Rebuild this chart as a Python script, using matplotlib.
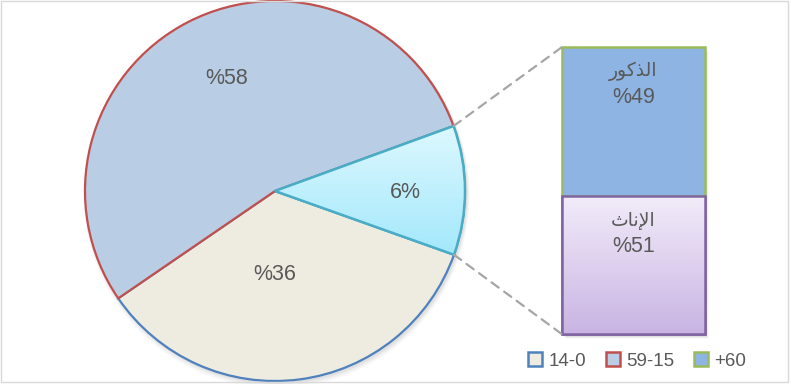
import numpy as np
import matplotlib
matplotlib.use("Agg")
import matplotlib.pyplot as plt
from matplotlib.patches import Patch, Rectangle, PathPatch
from matplotlib.patches import ConnectionPatch
from matplotlib.colors import LinearSegmentedColormap

# ---------------- data ----------------
# pie slices (counter-clockwise from the right): +60, 59-15, 14-0
pie_values = [11, 54, 35]
pie_labels = ["6%", "%58", "%36"]
# secondary bar (bottom to top): females, males
sex_values = [48, 52]
sex_pct_labels = ["%51", "%49"]
# Arabic names in visual (presentation-form) order: الإناث , الذكور
sex_names = ["\uFE99\uFE8E\uFEE7\uFEF9\uFE8D",
             "\uFEAD\uFEEE\uFEDB\uFEAC\uFEDF\uFE8D"]
legend_labels = ["14-0", "59-15", "+60"]

# ---------------- style ----------------
W, H = 791, 384
TXT = "#595959"
FONT = ["Liberation Sans", "DejaVu Sans"]
pie_face = ["#C9F1FD", "#B9CDE5", "#EEECE1"]
pie_edge = ["#4BACC6", "#C0504D", "#4F81BD"]
pie_z = [2.4, 2.2, 2.0]
bar_face = ["#E0D4F0", "#8EB4E3"]
bar_edge = ["#8064A2", "#9BBB59"]
legend_face = ["#EEECE1", "#B9CDE5", "#8EB4E3"]
legend_edge = ["#4F81BD", "#C0504D", "#9BBB59"]

fig = plt.figure(figsize=(W / 100, H / 100), dpi=100)
fig.patch.set_facecolor("white")
ax = fig.add_axes([0, 0, 1, 1])

cx, cy, R = 275, H - 191, 190
start = -19.6

# soft shadow of the pie
for i, a in enumerate([0.05, 0.04, 0.03]):
    sh = plt.Circle((cx + 1.5, cy - 2 - i), R + 1 + i, color="black", alpha=a,
                    zorder=0.5, lw=0)
    ax.add_patch(sh)

wedges, _ = ax.pie(pie_values, center=(cx, cy), radius=R, startangle=start,
                   counterclock=True, colors=pie_face,
                   wedgeprops=dict(linewidth=1.6), frame=True)
for w, ec, z in zip(wedges, pie_edge, pie_z):
    w.set_edgecolor(ec)
    w.set_zorder(z)

# gradient fill for the +60 slice
cyan_cmap = LinearSegmentedColormap.from_list("cy", ["#DDF8FF", "#A3E8FB"])
bb = wedges[0].get_path().get_extents()
grad = np.linspace(0, 1, 256).reshape(-1, 1)
im = ax.imshow(grad, extent=[bb.x0, bb.x1, bb.y0, bb.y1], origin="upper",
               cmap=cyan_cmap, aspect="auto", zorder=2.5)
im.set_clip_path(wedges[0])
ax.add_patch(PathPatch(wedges[0].get_path(), fill=False,
                       edgecolor=pie_edge[0], lw=1.8, zorder=2.6))
ax.set_xlim(0, W)
ax.set_ylim(0, H)
ax.set_aspect("auto")
ax.axis("off")

# pie labels
label_pos = [(405, H - 192), (227, H - 79), (275, H - 274)]
for (x, y), t in zip(label_pos, pie_labels):
    ax.text(x, y, t, ha="center", va="center", fontsize=15.5, color=TXT,
            family=FONT, zorder=5)

# ---------------- secondary stacked bar ----------------
bx0, bx1, by0, by1 = 561.7, 705, 334, 47.3
ax2 = fig.add_axes([bx0 / W, (H - by0) / H, (bx1 - bx0) / W, (by0 - by1) / H])
ax2.axis("off")
ax2.patch.set_alpha(0)

# bar shadow
for i, a in enumerate([0.06, 0.04, 0.025]):
    ax.add_patch(Rectangle((bx0 + 2 + i, H - by0 - 3 - i), bx1 - bx0,
                           by0 - by1, color="black", alpha=a, lw=0, zorder=0.5))

bottoms = np.cumsum([0] + sex_values[:-1])
bars = []
for v, b, fc, ec in zip(sex_values, bottoms, bar_face, bar_edge):
    r = ax2.bar(0, v, bottom=b, width=1.0, color=fc, edgecolor=ec,
                linewidth=1.8, clip_on=False, zorder=2)[0]
    bars.append(r)

# gradient on females segment
lav_cmap = LinearSegmentedColormap.from_list("lv", ["#F2ECF9", "#C9B4E3"])
r0 = bars[0]
im2 = ax2.imshow(grad, extent=[r0.get_x(), r0.get_x() + r0.get_width(),
                               r0.get_y(), r0.get_y() + r0.get_height()],
                 origin="upper", cmap=lav_cmap, aspect="auto", zorder=2.1)
im2.set_clip_path(r0)
ax2.add_patch(Rectangle((r0.get_x(), r0.get_y()), r0.get_width(),
                        r0.get_height(), fill=False, edgecolor=bar_edge[0],
                        lw=1.8, zorder=2.3, clip_on=False))
ax2.set_xlim(-0.5, 0.5)
ax2.set_ylim(0, sum(sex_values))
ax2.set_aspect("auto")

for v, b, name, pct in zip(sex_values, bottoms, sex_names, sex_pct_labels):
    top = b + v
    ax2.text(0, top - 0.085 * sum(sex_values), name, ha="center",
             va="center", fontsize=13.5, color=TXT, family=FONT, zorder=5)
    ax2.text(0, top - 0.175 * sum(sex_values), pct, ha="center",
             va="center", fontsize=15.5, color=TXT, family=FONT, zorder=5)

# ---------------- connector lines ----------------
ang = np.deg2rad([start, start + pie_values[0] / sum(pie_values) * 360])
p_low = (cx + R * np.cos(ang[0]), cy + R * np.sin(ang[0]))
p_up = (cx + R * np.cos(ang[1]), cy + R * np.sin(ang[1]))
for p, yb in [(p_up, sum(sex_values)), (p_low, 0)]:
    con = ConnectionPatch(xyA=p, coordsA=ax.transData, xyB=(-0.5, yb),
                          coordsB=ax2.transData, color="#A6A6A6", lw=1.6,
                          linestyle=(0, (4, 3)), zorder=1)
    fig.add_artist(con)

# ---------------- legend ----------------
handles = [Patch(facecolor=fc, edgecolor=ec, linewidth=1.8)
           for fc, ec in zip(legend_face, legend_edge)]
leg = fig.legend(handles, legend_labels, loc="center",
                 bbox_to_anchor=(637 / W, 1 - 361 / H), ncol=3, frameon=False,
                 handlelength=0.75, handleheight=0.75, handletextpad=0.35,
                 columnspacing=1.05, prop=dict(family=FONT, size=13.5))
for t in leg.get_texts():
    t.set_color(TXT)

# chart frame
fig.add_artist(Rectangle((0.5 / W, 1 - 381.5 / H), 787.5 / W, 380.5 / H,
                         transform=fig.transFigure, fill=False,
                         edgecolor="#D9D9D9", lw=1.0, zorder=10))

fig.savefig("out.png", dpi=100, facecolor="white")
